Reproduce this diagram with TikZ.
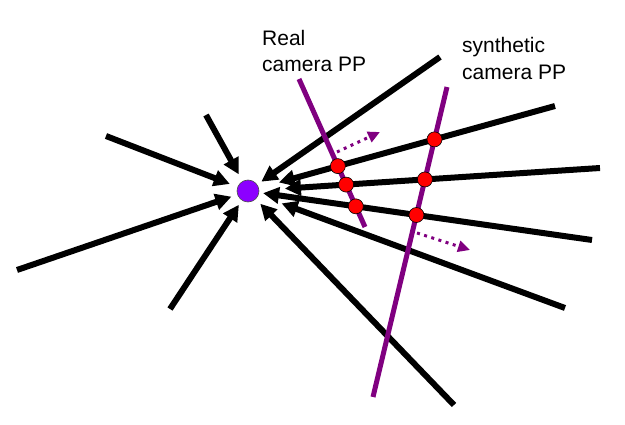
\documentclass[tikz,border=0pt]{standalone}
\usepackage{fontspec}
\setmainfont{Liberation Sans}
\usetikzlibrary{arrows.meta,intersections}
\definecolor{ppcol}{RGB}{128,0,128}
\definecolor{camcol}{RGB}{140,0,255}
\begin{document}
\begin{tikzpicture}[x=1pt,y=-1pt,
  ray/.style={line width=6pt, -{Triangle[length=16pt,width=16pt]}},
  pp/.style={line width=5pt, ppcol},
  hit/.style={circle, draw=black, line width=0.6pt, fill=red, minimum size=15pt, inner sep=0pt},
  motion/.style={ppcol, line width=3pt, dash pattern=on 3pt off 4.5pt, -{Triangle[length=12pt,width=11pt]}},
  camdot/.style={circle, draw=black!70, line width=0.6pt, fill=camcol, minimum size=22pt, inner sep=0pt},
  lbl/.style={font=\fontsize{21}{26}\selectfont, anchor=base west, inner sep=0pt}]
\useasboundingbox (0,0) rectangle (625,425);
\coordinate (c) at (248,191);
% ray start points
\coordinate (s1) at (206,115);
\coordinate (s2) at (106,136);
\coordinate (s3) at (17,270);
\coordinate (s4) at (170,309);
\coordinate (s5) at (440,57);
\coordinate (s6) at (555,106);
\coordinate (s7) at (600,168);
\coordinate (s8) at (592,240);
\coordinate (s9) at (565,308);
\coordinate (s10) at (454,405);
% rays
\draw[ray, shorten >=19pt] (s1) -- (c);
\draw[ray, shorten >=19.5pt] (s2) -- (c);
\draw[ray, shorten >=17.5pt] (s3) -- (c);
\draw[ray, shorten >=16.5pt] (s4) -- (c);
\draw[ray, shorten >=16.3pt] (s5) -- (c);
\draw[ray, shorten >=32pt, name path=ray6] (s6) -- (c);
\draw[ray, shorten >=37pt, name path=ray7] (s7) -- (c);
\draw[ray, shorten >=15.2pt, name path=ray8] (s8) -- (c);
\draw[ray, shorten >=35.8pt] (s9) -- (c);
\draw[ray, shorten >=17.7pt] (s10) -- (c);
% picture planes
\coordinate (r0) at (299,79);
\coordinate (r1) at (365,227);
\coordinate (q0) at (447,87);
\coordinate (q1) at (373,397);
\draw[pp, name path=rpp] (r0) -- (r1);
\draw[pp, name path=spp] (q0) -- (q1);
% intersection dots
\path[name intersections={of=ray6 and rpp, by=x6r}];
\path[name intersections={of=ray7 and rpp, by=x7r}];
\path[name intersections={of=ray8 and rpp, by=x8r}];
\path[name intersections={of=ray6 and spp, by=x6s}];
\path[name intersections={of=ray7 and spp, by=x7s}];
\path[name intersections={of=ray8 and spp, by=x8s}];
\node[hit] (h1) at (x6r) {};
\node[hit] (h2) at (x7r) {};
\node[hit] (h3) at (x8r) {};
\node[hit] (h4) at (x6s) {};
\node[hit] (h5) at (x7s) {};
\node[hit] (h6) at (x8s) {};
% motion arrows
\coordinate (m1a) at (337,152);
\coordinate (m1b) at (380,132);
\coordinate (m2a) at (417,233);
\coordinate (m2b) at (470,250);
\draw[motion] (m1a) -- (m1b);
\draw[motion] (m2a) -- (m2b);
% camera centre
\node[camdot] (cam) at (c) {};
% labels
\node[lbl] (realA) at (262,46) {Real};
\node[lbl] (realB) at (262,72) {camera PP};
\node[lbl] (synA) at (462,53) {synthetic};
\node[lbl] (synB) at (462,80) {camera PP};
\end{tikzpicture}
\end{document}
